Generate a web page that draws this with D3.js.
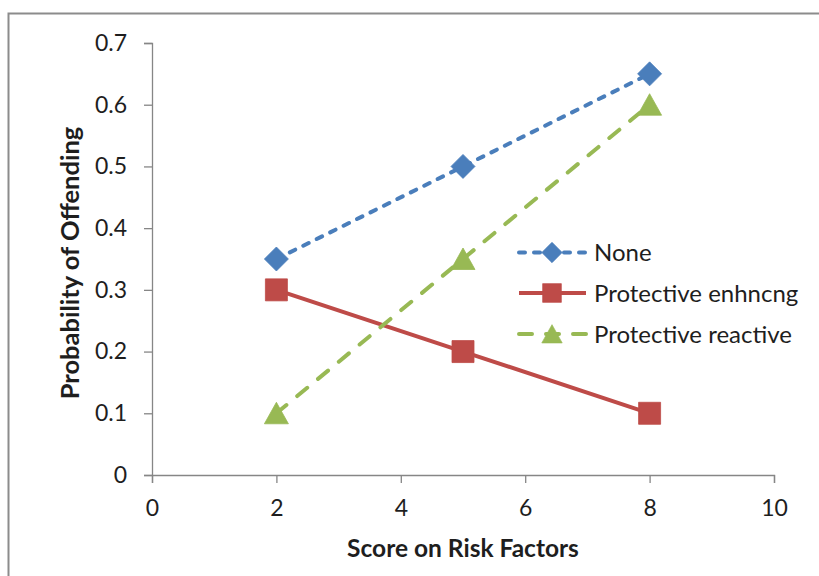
<!DOCTYPE html>
<html>
<head>
<meta charset="utf-8">
<script src="https://cdn.jsdelivr.net/npm/d3@7"></script>
<style>
  html, body { margin: 0; padding: 0; background: #fff; }
  svg { display: block; }
  text { font-family: Lato, "Open Sans", "Liberation Sans", sans-serif; }
</style>
</head>
<body>
<svg id="chart" width="819" height="576"></svg>
<script>
// Risk score values on the x axis
const riskScores = [2, 5, 8];
// Probability of offending for each protective-factor group
const noneValues = [0.35, 0.5, 0.65];
const enhancingValues = [0.3, 0.2, 0.1];
const reactiveValues = [0.1, 0.35, 0.6];
const seriesNames = ["None", "Protective enhncng", "Protective reactive"];
const xTicks = [0, 2, 4, 6, 8, 10];
const yTicks = [0, 0.1, 0.2, 0.3, 0.4, 0.5, 0.6, 0.7];

const svg = d3.select("#chart");

// outer chart frame
svg.append("rect")
  .attr("x", 8.5).attr("y", 13.5)
  .attr("width", 830).attr("height", 600)
  .attr("fill", "none").attr("stroke", "#8c8c8c").attr("stroke-width", 2);

const x = d3.scaleLinear().domain([0, 10]).range([152, 774]);
const y = d3.scaleLinear().domain([0, 0.7]).range([475, 43]);

const axisColor = "#868686";
const textColor = "#1e1e1e";

// y axis
const yAxis = svg.append("g")
  .attr("transform", `translate(${x(0)},0)`)
  .call(d3.axisLeft(y).tickValues(yTicks).tickSize(8).tickPadding(17)
    .tickFormat(d => d === 0 ? "0" : d3.format(".1f")(d)));
yAxis.select(".domain").attr("stroke", axisColor).attr("stroke-width", 1.3);
yAxis.selectAll(".tick line").attr("stroke", axisColor).attr("stroke-width", 1.3);
yAxis.selectAll("text").attr("font-size", 23).attr("fill", textColor);

// x axis
const xAxis = svg.append("g")
  .attr("transform", `translate(0,${y(0)})`)
  .call(d3.axisBottom(x).tickValues(xTicks).tickSize(8).tickPadding(17));
xAxis.select(".domain").attr("stroke", axisColor).attr("stroke-width", 1.3);
xAxis.selectAll(".tick line").attr("stroke", axisColor).attr("stroke-width", 1.3);
xAxis.selectAll("text").attr("font-size", 23).attr("fill", textColor);

// axis titles
svg.append("text")
  .attr("x", 463).attr("y", 557)
  .attr("text-anchor", "middle")
  .attr("font-size", 24.5).attr("font-weight", "bold").attr("fill", textColor)
  .text("Score on Risk Factors");
svg.append("text")
  .attr("transform", "translate(79,263) rotate(-90)")
  .attr("text-anchor", "middle")
  .attr("font-size", 25.5).attr("font-weight", "bold").attr("fill", textColor)
  .text("Probability of Offending");

// marker outlines, centred on the point
const markerShapes = {
  diamond: "M0,-12L12,0L0,12L-12,0Z",
  square: "M-11,-11H11V11H-11Z",
  triangle: "M0,-11L12,10.5H-12Z"
};

const series = [
  { name: seriesNames[0], values: noneValues, color: "#4a7ebb", dash: "6,9", cap: "round", shape: "diamond" },
  { name: seriesNames[1], values: enhancingValues, color: "#be4b48", dash: null, cap: "butt", shape: "square" },
  { name: seriesNames[2], values: reactiveValues, color: "#98b954", dash: "13,14", cap: "round", shape: "triangle" }
];

const line = d3.line()
  .x((d, i) => x(riskScores[i]))
  .y(d => y(d));

function drawMarker(g, s, cx, cy, k) {
  g.append("path")
    .attr("d", markerShapes[s.shape])
    .attr("transform", `translate(${cx},${cy}) scale(${k})`)
    .attr("fill", s.color)
    .attr("stroke", s.color)
    .attr("stroke-width", 0.8);
}

series.forEach(s => {
  const g = svg.append("g");
  g.append("path")
    .datum(s.values)
    .attr("d", line)
    .attr("fill", "none")
    .attr("stroke", s.color)
    .attr("stroke-width", 4)
    .attr("stroke-linecap", s.cap)
    .attr("stroke-dasharray", s.dash);
  s.values.forEach((v, i) => drawMarker(g, s, x(riskScores[i]), y(v), 1));
});

// legend
const legendY = [252.5, 293, 334];
series.forEach((s, i) => {
  const g = svg.append("g");
  const ly = legendY[i];
  g.append("line")
    .attr("x1", 519).attr("x2", 586)
    .attr("y1", ly).attr("y2", ly)
    .attr("stroke", s.color)
    .attr("stroke-width", 4)
    .attr("stroke-linecap", s.cap)
    .attr("stroke-dasharray", s.dash);
  drawMarker(g, s, 552, ly, 0.85);
  g.append("text")
    .attr("x", 594).attr("y", ly)
    .attr("dy", "0.36em")
    .attr("font-size", 24).attr("fill", textColor)
    .text(s.name);
});
</script>
</body>
</html>
